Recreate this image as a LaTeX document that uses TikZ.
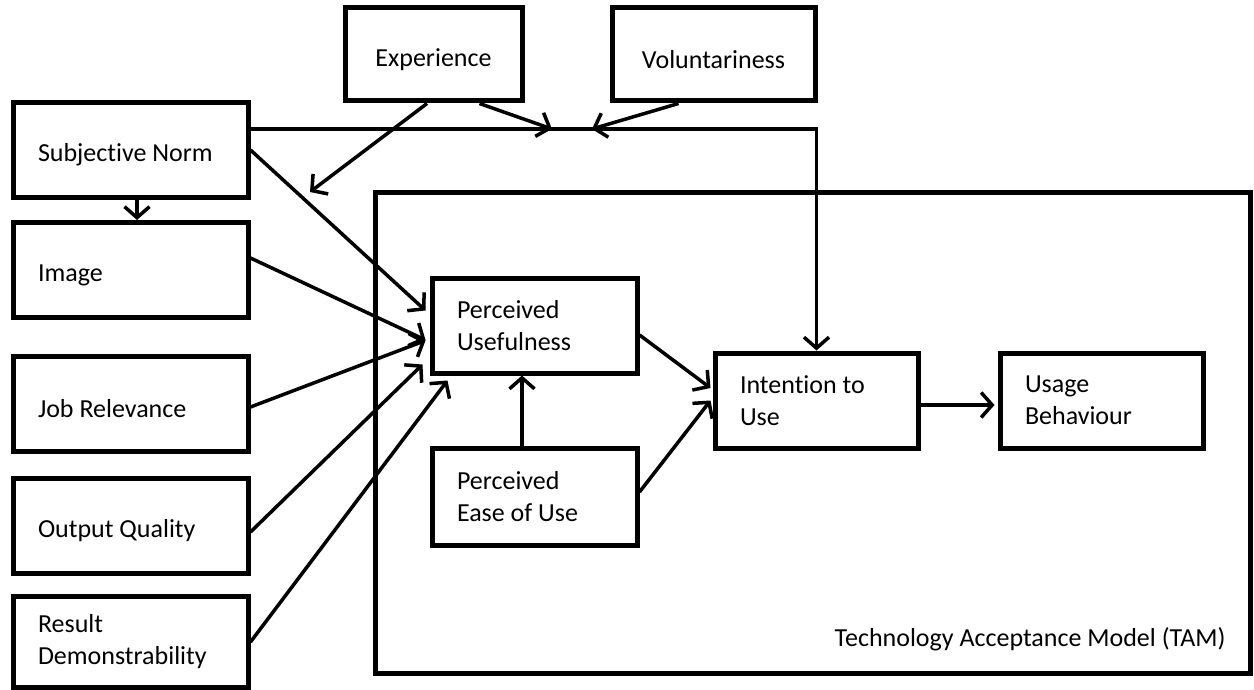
\documentclass[tikz,border=0pt]{standalone}
\usepackage{fontspec}
\setmainfont{Carlito}[Ligatures=NoCommon]
\usetikzlibrary{arrows.meta}
\newcommand{\lowtxt}[1]{\raisebox{-5pt}[\height][\depth]{#1}}
\begin{document}
\begin{tikzpicture}[x=1pt,y=-1pt,
  box/.style={draw=black, line width=5pt, rectangle, minimum height=95pt,
    inner ysep=0pt, font=\fontsize{26}{32}\selectfont},
  lbox/.style={box, align=flush left, inner xsep=25pt, text width=#1},
  cbox/.style={box, align=center, minimum width=#1},
  arr/.style={line width=3.5pt, -{Straight Barb[length=11pt,width=25pt,line width=3.5pt]}}
]
\useasboundingbox (0,0) rectangle (1254,690);
% TAM frame
\draw[line width=5pt] (375,193) rectangle (1250,673);
\node[anchor=east, font=\fontsize{26}{32}\selectfont] (tamlbl) at (1229,639) {Technology Acceptance Model (TAM)};

% top moderators
\node[cbox=177pt, minimum height=93pt] (exp) at (433.5,54.5) {\lowtxt{Experience}};
\node[cbox=203pt, minimum height=93pt] (vol) at (713.5,54.5) {\lowtxt{Voluntariness}};

% left column
\node[lbox=185pt] (sn)  at (130.5,150) {\lowtxt{Subjective Norm}};
\node[lbox=185pt] (img) at (130.5,270) {\lowtxt{Image}};
\node[lbox=185pt] (job) at (130.5,403.5) {\lowtxt{Job Relevance}};
\node[lbox=185pt] (out) at (130.5,525.5) {\lowtxt{Output Quality}};
\node[lbox=185pt, minimum height=91pt] (res) at (130.5,642) {Result\\Demonstrability};

% TAM core
\node[lbox=155pt] (pu)    at (534.5,325.5) {Perceived\\Usefulness};
\node[lbox=155pt, minimum height=97pt] (peou)  at (534.5,496.5) {Perceived\\Ease of Use};
\node[lbox=153pt] (int)   at (816.5,400.5) {Intention to\\Use};
\node[lbox=153pt] (usage) at (1101.5,400.5) {Usage\\Behaviour};

% moderation points
\coordinate (m1) at (552,129);
\coordinate (m2) at (592,129);
\coordinate (m3) at (310,192);

% connectors
\draw[arr] ([yshift=21pt]sn.east) -| (int.north);
\draw[arr] ([xshift=46pt]exp.south) -- (m1);
\draw[arr] ([xshift=-35pt]vol.south) -- (m2);
\draw[arr] ([xshift=-6.5pt]exp.south) -- (m3);

\draw[arr] ([xshift=6.5pt]sn.south) -- ([xshift=6.5pt]img.north);

\draw[arr] (sn.east) -- ([xshift=-4pt,yshift=15pt]pu.west);
\draw[arr] ([yshift=12pt]img.east) -- ([xshift=-4pt,yshift=-14.5pt]pu.west);
\draw[arr] ([yshift=-3.5pt]job.east) -- ([xshift=-4pt,yshift=-15pt]pu.west);
\draw[arr] ([yshift=-6.5pt]out.east) -- ([xshift=-7pt,yshift=11pt]pu.south west);
\draw[arr] (res.east) -- ([xshift=18pt,yshift=-5pt]pu.south west);

\draw[arr] ([xshift=-12.5pt]peou.north) -- ([xshift=-12.5pt]pu.south);
\draw[arr] ([yshift=-9.5pt]pu.east) -- ([xshift=-2pt,yshift=12.5pt]int.west);
\draw[arr] ([yshift=4.5pt]peou.east) -- ([xshift=-2pt]int.west);
\draw[arr] ([yshift=-4.5pt]int.east) -- ([xshift=-3pt,yshift=-4.5pt]usage.west);
\end{tikzpicture}
\end{document}
